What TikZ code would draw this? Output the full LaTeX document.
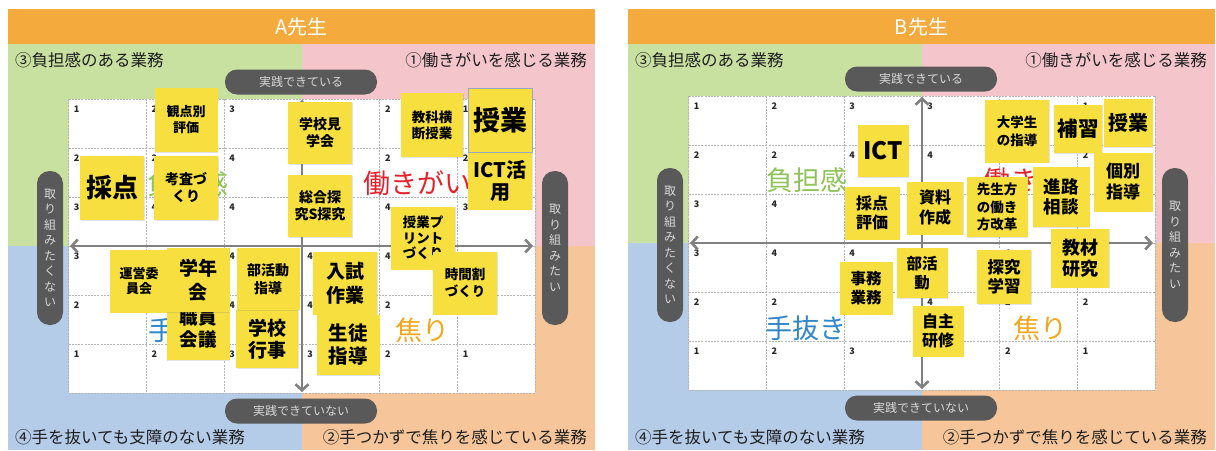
\documentclass[tikz,border=0pt]{standalone}
\usepackage{fontspec}
\setmainfont{Noto Sans CJK JP}
\usetikzlibrary{arrows.meta,shadows}
\definecolor{qgreen}{HTML}{C8E0A0}
\definecolor{qpink}{HTML}{F4C6CC}
\definecolor{qblue}{HTML}{B4CCE8}
\definecolor{qorange}{HTML}{F6C69A}
\definecolor{hdr}{HTML}{F4AA3C}
\definecolor{titlegray}{HTML}{1E1E1E}
\definecolor{gridgray}{HTML}{B5B5B5}
\definecolor{axisgray}{HTML}{808080}
\definecolor{pillgray}{HTML}{595959}
\definecolor{pilltext}{HTML}{D8D8D8}
\definecolor{noteyel}{HTML}{F6DF3F}
\definecolor{wgreen}{HTML}{8DC358}
\definecolor{wred}{HTML}{E5222B}
\definecolor{wblue}{HTML}{2F86C9}
\definecolor{worange}{HTML}{F1A81E}
\definecolor{selborder}{HTML}{9AA8BD}
\newcommand\fz[2]{\fontsize{#1}{#2}\selectfont\bfseries}
\tikzset{
  qtitle/.style={font=\fontsize{16.5}{18}\selectfont, text=titlegray, inner sep=0pt},
  header/.style={fill=hdr, minimum width=587pt, minimum height=35pt, inner sep=0pt, text=white, font=\fontsize{20}{22}\selectfont},
  gridline/.style={draw=gridgray, line width=0.7pt, dash pattern=on 2pt off 1.2pt},
  cellnum/.style={font=\fz{9}{10}, inner sep=0pt, text=black!85},
  axisline/.style={draw=axisgray, line width=2.6pt, arrows={Straight Barb[length=6pt,width=13pt]-Straight Barb[length=6pt,width=13pt]}},
  pill/.style={fill=pillgray, text=pilltext, rounded corners=12pt, inner sep=0pt, minimum width=152pt, minimum height=25pt, font=\fontsize{12}{14}\selectfont},
  vpill/.style={fill=pillgray, text=pilltext, rounded corners=12.5pt, inner sep=0pt, minimum width=26pt, minimum height=154pt, align=center, font=\fontsize{12}{15.5}\selectfont},
  bigword/.style={inner sep=0pt, font=\fontsize{27}{30}\selectfont},
  note/.style={fill=noteyel, inner sep=0pt, align=center, text=black, drop shadow={opacity=0.22,shadow xshift=0.8pt,shadow yshift=-0.8pt}},
}
% #1 id, #2 x offset, #3 axis y, #4 header text
\newcommand\panelbase[4]{%
\begin{scope}[xshift=#2pt]
  \fill[qgreen] (8,44) rectangle (302,#3);
  \fill[qpink] (302,44) rectangle (595,#3);
  \fill[qblue] (8,#3) rectangle (302,450);
  \fill[qorange] (302,#3) rectangle (595,450);
  \node[header] (#1head) at (301.5,26.5) {#4};
  \node[qtitle,anchor=west] (#1q3) at (15,60) {③負担感のある業務};
  \node[qtitle,anchor=east] (#1q1) at (587,60) {①働きがいを感じる業務};
  \node[qtitle,anchor=west] (#1q4) at (15,437) {④手を抜いても支障のない業務};
  \node[qtitle,anchor=east] (#1q2) at (587,437) {②手つかずで焦りを感じている業務};
  \begin{scope}[shift={(302,#3)}]
    \fill[white] (-233.4,-147) rectangle (233.4,147);
    \foreach \i in {0,...,6}{
      \draw[gridline] ({-233.4+\i*77.8},-147) -- ({-233.4+\i*77.8},147);
      \draw[gridline] (-233.4,{-147+\i*49}) -- (233.4,{-147+\i*49});
    }
    \foreach \v [count=\k from 0] in {1,2,3,3,2,1, 2,2,4,4,2,2, 3,4,4,4,4,3, 3,4,4,4,4,3, 2,2,4,4,2,2, 1,2,3,3,2,1}{
      \pgfmathtruncatemacro\rr{div(\k,6)}
      \pgfmathtruncatemacro\cc{mod(\k,6)}
      \node[cellnum] (#1n\k) at ({-233.4+\cc*77.8+8},{-147+\rr*49+10}) {\v};
    }
    \coordinate (#1N) at (0,-146);
    \coordinate (#1S) at (0,146);
    \coordinate (#1W) at (-232,0);
    \coordinate (#1E) at (231,0);
    \draw[axisline] (#1N) -- (#1S);
    \draw[axisline] (#1W) -- (#1E);
    \node[pill] (#1ptop) at (-1,-164) {実践できている};
    \node[pill] (#1pbot) at (-1,165) {実践できていない};
    \node[vpill] (#1pl) at (-252,2) {取\\り\\組\\み\\た\\く\\な\\い};
    \node[vpill] (#1pr) at (253,2) {取\\り\\組\\み\\た\\い};
  \end{scope}
\end{scope}}
\begin{document}
\begin{tikzpicture}[x=1pt,y=-1pt]
\fill[white] (0,0) rectangle (1216,450);
\useasboundingbox (0,0) rectangle (1216,450);

%================ Panel A ================
\panelbase{A}{0}{246}{A先生}
\node[bigword,text=wgreen] (Aw1) at (188,184) {負担感};
\node[bigword,text=wred] (Aw2) at (417,183) {働きがい};
\node[bigword,text=wblue] (Aw3) at (189,330) {手抜き};
\node[bigword,text=worange] (Aw4) at (422,330) {焦り};

\node[note,minimum width=63pt,minimum height=64pt,font=\fz{13}{16}] (Aa1) at (186,120) {観点別\\評価};
\node[note,minimum width=64pt,minimum height=64pt,font=\fz{26}{28}] (Aa2) at (112,188) {採点};
\node[note,minimum width=64pt,minimum height=64pt,font=\fz{14}{17}] (Aa3) at (186,188) {考査づ\\くり};
\node[note,minimum width=64pt,minimum height=62pt,font=\fz{14}{17}] (Aa4) at (320,133) {学校見\\学会};
\node[note,minimum width=64pt,minimum height=62pt,font=\fz{14}{17}] (Aa5) at (320,206) {総合探\\究S探究};
\node[note,minimum width=62pt,minimum height=64pt,font=\fz{13.5}{16}] (Aa6) at (432,125) {教科横\\断授業};
\node[note,draw=selborder,line width=1pt,minimum width=64pt,minimum height=64pt,font=\fz{27}{29}] (Aa7) at (500,120) {授業};
\node[note,minimum width=64pt,minimum height=57pt,font=\fz{20}{22}] (Aa8) at (500,181) {ICT活\\用};
\node[note,minimum width=64pt,minimum height=63pt,font=\fz{13.5}{15.5}] (Aa9) at (423,238) {授業プ\\リント\\づくり};
\node[note,minimum width=64pt,minimum height=63pt,font=\fz{13.5}{17}] (Aa10) at (465,283) {時間割\\づくり};
\node[note,minimum width=58pt,minimum height=63pt,font=\fz{13}{15.5}] (Aa11) at (139,281) {運営委\\員会};
\node[note,minimum width=63pt,minimum height=64pt,font=\fz{18.5}{22}] (Aa13) at (198,328) {職員\\会議};
\node[note,minimum width=63pt,minimum height=64pt,font=\fz{19}{24}] (Aa12) at (198,280) {学年\\会};
\node[note,minimum width=62pt,minimum height=58pt,font=\fz{19}{21.5}] (Aa15) at (267,339) {学校\\行事};
\node[note,minimum width=63pt,minimum height=62pt,font=\fz{14}{18}] (Aa14) at (268,279) {部活動\\指導};
\node[note,minimum width=63pt,minimum height=60pt,font=\fz{19.5}{23}] (Aa17) at (348,345) {生徒\\指導};
\node[note,minimum width=64pt,minimum height=63pt,font=\fz{19}{24}] (Aa16) at (345,283) {入試\\作業};

%================ Panel B ================
\panelbase{B}{620}{243}{B先生}
\node[bigword,text=wgreen] (Bw1) at (807,180) {負担感};
\node[bigword,text=wred] (Bw2) at (1037,180) {働きがい};
\node[bigword,text=wblue] (Bw3) at (806,328) {手抜き};
\node[bigword,text=worange] (Bw4) at (1040,328) {焦り};

\node[note,minimum width=51pt,minimum height=52pt,font=\fz{24}{26}] (Bb1) at (883,151) {ICT};
\node[note,minimum width=55pt,minimum height=53pt,font=\fz{16}{18.5}] (Bb2) at (872,213) {採点\\評価};
\node[note,minimum width=56pt,minimum height=53pt,font=\fz{16}{20}] (Bb3) at (935,208) {資料\\作成};
\node[note,minimum width=61pt,minimum height=60pt,font=\fz{13.5}{17.5}] (Bb4) at (997,207) {先生方\\の働き\\方改革};
\node[note,minimum width=64pt,minimum height=63pt,font=\fz{13.5}{18}] (Bb5) at (1017,131) {大学生\\の指導};
\node[note,minimum width=48pt,minimum height=48pt,font=\fz{20.5}{22}] (Bb6) at (1078,129) {補習};
\node[note,minimum width=49pt,minimum height=48pt,font=\fz{20}{22}] (Bb7) at (1128,123) {授業};
\node[note,minimum width=59pt,minimum height=59pt,font=\fz{17}{21}] (Bb8) at (1123,182) {個別\\指導};
\node[note,minimum width=57pt,minimum height=60pt,font=\fz{17.5}{20.5}] (Bb9) at (1061,197) {進路\\相談};
\node[note,minimum width=58pt,minimum height=59pt,font=\fz{18}{21}] (Bb10) at (1080,258) {教材\\研究};
\node[note,minimum width=53pt,minimum height=53pt,font=\fz{15.5}{18.5}] (Bb11) at (866,288) {事務\\業務};
\node[note,minimum width=51pt,minimum height=50pt,font=\fz{15.5}{19}] (Bb12) at (922,273) {部活\\動};
\node[note,minimum width=54pt,minimum height=54pt,font=\fz{16.5}{19}] (Bb13) at (1004,277) {探究\\学習};
\node[note,minimum width=51pt,minimum height=51pt,font=\fz{16}{18.5}] (Bb14) at (938,331) {自主\\研修};
\end{tikzpicture}
\end{document}
